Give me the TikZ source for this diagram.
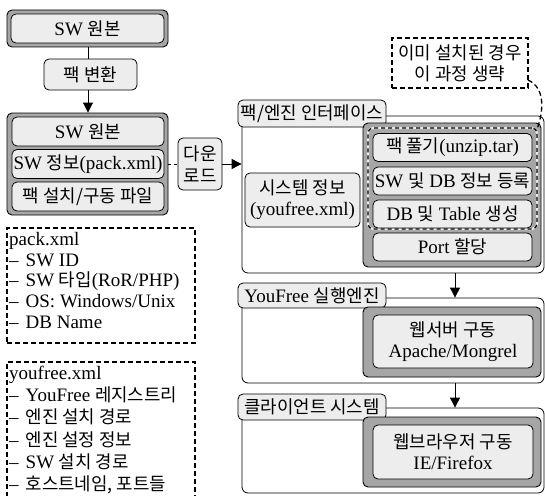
\documentclass[tikz,border=0pt]{standalone}
\usepackage{fontspec}
\setmainfont{Liberation Serif}
\newfontfamily\kr[Scale=0.94]{Noto Sans CJK KR}
\newcommand\K[1]{{\kr #1}}
\newcommand\dsh{–\hspace{7pt}}
\usetikzlibrary{arrows.meta}
\tikzset{
  gbox/.style={draw=black, line width=0.9pt, fill=black!35, rounded corners=5pt, inner sep=0pt},
  ibox/.style={draw=black, line width=0.8pt, fill=black!7, rounded corners=5pt, inner sep=0pt, align=center},
  panel/.style={draw=black, line width=0.8pt, fill=white, rounded corners=6pt, inner sep=0pt},
  tabbox/.style={draw=black, line width=0.8pt, fill=black!7, rounded corners=5pt, inner sep=0pt},
  notebox/.style={draw=black, line width=1.5pt, dash pattern=on 5pt off 3pt, inner sep=0pt, align=center},
  listbox/.style={draw=black, line width=1.5pt, dash pattern=on 5pt off 3pt, inner sep=0pt},
  arr/.style={line width=0.9pt, -{Triangle[length=10pt,width=10pt]}},
  plain/.style={line width=0.9pt},
}
\begin{document}
\begin{tikzpicture}[x=1pt,y=-1pt,font=\fontsize{19}{21}\selectfont]
\useasboundingbox (0,0) rectangle (545,495);

% ---- left column ----
\node[gbox, minimum width=161pt, minimum height=37pt] (top) at (87.5,28.5) {};
\node[ibox, minimum width=153pt, minimum height=29pt] (topi) at (top.center) {SW \K{원본}};
\node[ibox, minimum width=93pt, minimum height=31pt] (pk) at (90.5,74.5) {\K{팩 변환}};
\node[gbox, minimum width=161pt, minimum height=102pt] (grp) at (87.5,164) {};
\node[ibox, minimum width=152pt, minimum height=29pt] (g1) at (88,131.5) {SW \K{원본}};
\node[ibox, minimum width=152pt, minimum height=29pt] (g2) at (88,164) {SW \K{정보}(pack.xml)};
\node[ibox, minimum width=152pt, minimum height=29pt] (g3) at (88,196.5) {\K{팩 설치/구동 파일}};
\node[ibox, minimum width=44pt, minimum height=52pt, font=\fontsize{19}{22}\selectfont] (dl) at (200,164) {\K{다운}\\\K{로드}};

\draw[plain] (top.south -| 88,0) -- (pk.north -| 88,0);
\draw[arr] (pk.south -| 88,0) -- (grp.north -| 88,0);

\node[listbox, minimum width=188pt, minimum height=115pt] (packl) at (101,285.5) {};
\node[anchor=north west, align=left, inner sep=0pt, font=\fontsize{19}{20.8}\selectfont] (packt) at (9,232)
 {pack.xml\\\dsh SW ID\\\dsh SW \K{타입}(RoR/PHP)\\\dsh OS: Windows/Unix\\\dsh DB Name};
\node[listbox, minimum width=188pt, minimum height=150pt] (yfl) at (101,437) {};
\node[anchor=north west, align=left, inner sep=0pt, font=\fontsize{19}{22.2}\selectfont] (yft) at (9,366)
 {youfree.xml\\\dsh YouFree \K{레지스트리}\\\dsh \K{엔진 설치 경로}\\\dsh \K{엔진 설정 정보}\\\dsh SW \K{설치 경로}\\\dsh \K{호스트네임, 포트들}};

% ---- note ----
\node[notebox, minimum width=136pt, minimum height=50pt] (note) at (460,63) {\K{이미 설치된 경우}\\\K{이 과정 생략}};

% ---- panel 1 ----
\node[panel, minimum width=302pt, minimum height=157pt] (p1) at (393,194.5) {};
\node[tabbox, minimum width=148pt, minimum height=27pt] (t1) at (312,113.5) {\K{팩/엔진 인터페이스}};
\node[ibox, minimum width=115pt, minimum height=54pt] (sys) at (302.5,200) {\K{시스템 정보}\\(youfree.xml)};
\node[gbox, minimum width=178pt, minimum height=144pt] (p1g) at (452,195) {};
\node[draw=black!8, line width=2pt, rounded corners=5pt, minimum width=169pt, minimum height=101pt, inner sep=0pt] (dgb) at (452.5,178.5) {};
\node[draw=black, line width=1.3pt, dash pattern=on 4pt off 3pt, rounded corners=5pt, minimum width=169pt, minimum height=101pt, inner sep=0pt] (dg) at (452.5,178.5) {};
\node[ibox, minimum width=159pt, minimum height=28pt] (b1) at (452.5,147.5) {\K{팩 풀기}(unzip.tar)};
\node[ibox, minimum width=159pt, minimum height=28pt] (b2) at (452.5,181) {SW \K{및} DB \K{정보 등록}};
\node[ibox, minimum width=159pt, minimum height=28pt] (b3) at (452.5,214) {DB \K{및} Table \K{생성}};
\node[ibox, minimum width=159pt, minimum height=28pt] (b4) at (452.5,247) {Port \K{할당}};

% ---- panel 2 ----
\node[panel, minimum width=302pt, minimum height=85pt] (p2) at (393,340.5) {};
\node[tabbox, minimum width=148pt, minimum height=25pt] (t2) at (312,295.5) {YouFree \K{실행엔진}};
\node[gbox, minimum width=178pt, minimum height=70pt] (p2g) at (452,342) {};
\node[ibox, minimum width=160pt, minimum height=53pt] (web) at (453,341.5) {\K{웹서버 구동}\\Apache/Mongrel};

% ---- panel 3 ----
\node[panel, minimum width=302pt, minimum height=85pt] (p3) at (393,450.5) {};
\node[tabbox, minimum width=148pt, minimum height=26pt] (t3) at (312,407) {\K{클라이언트 시스템}};
\node[gbox, minimum width=178pt, minimum height=70pt] (p3g) at (452,452) {};
\node[ibox, minimum width=160pt, minimum height=54pt] (br) at (453,452) {\K{웹브라우저 구동}\\IE/Firefox};

% ---- connectors ----
\draw[plain, dashed] (grp.east |- dl.west) -- (dl.west);
\draw[arr] (dl.east) -- (p1.west |- dl.east);
\draw[arr] (p1.south -| 455,0) -- (p2.north -| 455,0);
\draw[arr] (p2.south -| 455,0) -- (p3.north -| 455,0);
\coordinate (nc) at (528,80);
\draw[line width=1.3pt, dash pattern=on 5pt off 3pt] (nc) .. controls (546,88) and (543,112) .. (dg.north east);
\end{tikzpicture}
\end{document}
